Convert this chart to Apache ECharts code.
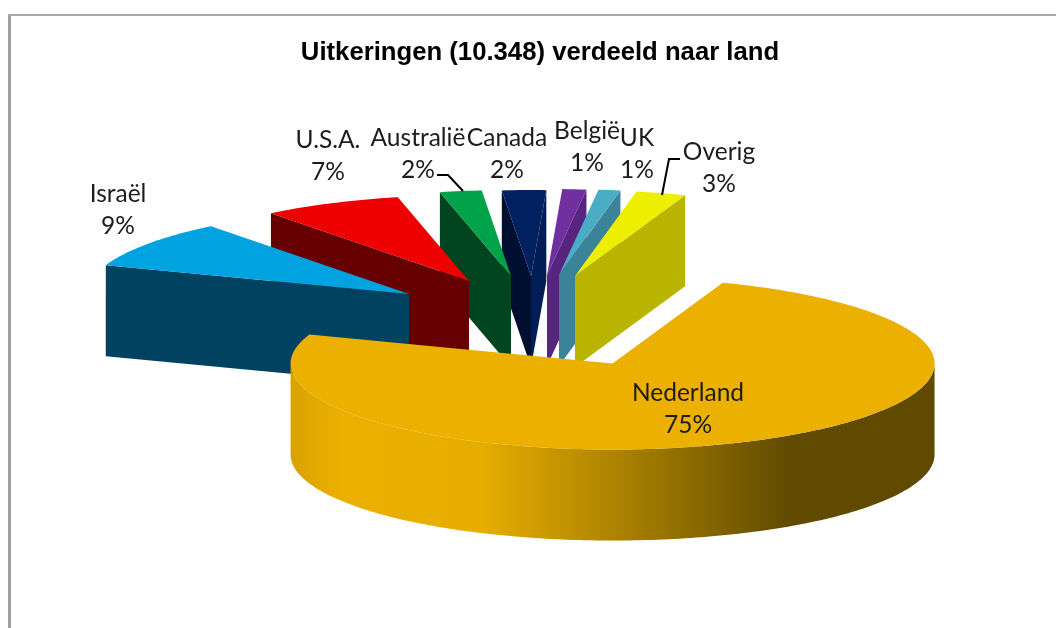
<!DOCTYPE html>
<html>
<head>
<meta charset="utf-8">
<style>html,body{margin:0;padding:0;background:#fff}#c{width:1056px;height:628px}</style>
<script src="https://cdn.jsdelivr.net/npm/echarts@6/dist/echarts.min.js"></script>
</head>
<body>
<div id="c"></div>
<script>
// Data, clockwise from the start angle
const categories = ['Nederland', 'Israël', 'U.S.A.', 'Australië', 'Canada', 'België', 'UK', 'Overig'];
const shares = [74.9, 9, 7, 2.1, 2.2, 1.2, 1.1, 2.5];
const titleText = 'Uitkeringen (10.348) verdeeld naar land';

// Styling
const topColors = ['#EBB000', '#00A3E0', '#EE0000', '#00A24A', '#002060', '#7030A0', '#4BACC6', '#EEEE00'];
const startWallColors = ['#5F4A00', '#00425F', '#660000', '#00451F', '#000F30', '#572480', '#3B8398', '#B8B400'];
const endWallColors = ['#5F4A00', '#00425F', '#660000', '#00451F', '#001D55', '#572480', '#3B8398', '#B8B400'];
const explodeX = [0.588, 0.471, 0.457, 0.418, 0.143, 0.547, 0.535, 0.5];
const explodeY = [0.585, 0.476, 0.476, 0.494, 0.488, 0.502, 0.506, 0.507];
const drawOrder = [4, 5, 6, 7, 3, 2, 1, 0];

// Layout of the projected pie
const firstAngle = 20, RX = 322, RY = 86, DEPTH = 91, CX = 532, CY = 318;
const labelAt = [[688, 409], [118, 210], [328, 156], [418, 154], [507, 154], [587, 147], [637, 154], [719, 168]];
const leaders = { 3: [[437, 175], [448, 175], [463, 191]], 7: [[680, 159], [669, 159], [662, 195]] };

const total = shares.reduce((a, b) => a + b, 0);
const startAngles = [];
shares.reduce((acc, v, i) => { startAngles[i] = acc; return acc + v / total * 360; }, firstAngle);

const rad = d => d * Math.PI / 180;
function renderSlice(params, api) {
  const i = api.value(0), v = api.value(1);
  const a0 = startAngles[i], a1 = a0 + v / total * 360, mid = (a0 + a1) / 2;
  const ax = CX + explodeX[i] * RX * Math.sin(rad(mid));
  const ay = CY - explodeY[i] * RY * Math.cos(rad(mid));
  const rim = a => [ax + RX * Math.sin(rad(a)), ay - RY * Math.cos(rad(a))];
  const down = p => [p[0], p[1] + DEPTH];
  const children = [];
  const poly = (points, fill) => children.push({ type: 'polygon', shape: { points }, style: { fill } });

  // Radial walls facing the viewer
  if (Math.sin(rad(a0)) < 0) {
    const p = rim(a0);
    poly([p, [ax, ay], down([ax, ay]), down(p)], startWallColors[i]);
  }
  if (Math.sin(rad(a1)) > 0) {
    const p = rim(a1);
    poly([p, [ax, ay], down([ax, ay]), down(p)], endWallColors[i]);
  }
  // Outer wall, front half only
  const f0 = Math.max(a0, 90), f1 = Math.min(a1, 270);
  if (f1 > f0) {
    const upper = [], lower = [];
    for (let a = f0; a <= f1; a += 1) { upper.push(rim(a)); lower.unshift(down(rim(a))); }
    poly(upper.concat(lower), {
      type: 'linear', x: 0, y: 0, x2: 1, y2: 0,
      colorStops: [
        { offset: 0, color: '#D9A200' }, { offset: 0.08, color: '#EBB000' },
        { offset: 0.3, color: '#E6AD00' }, { offset: 0.78, color: '#5F4A00' },
        { offset: 1, color: '#5F4A00' }
      ]
    });
  }
  // Top face
  const top = [[ax, ay]];
  for (let a = a0; a < a1; a += 1) top.push(rim(a));
  top.push(rim(a1));
  poly(top, topColors[i]);

  return { type: 'group', children };
}

function renderLabel(params, api) {
  const i = api.value(0), v = api.value(1);
  const children = [{
    type: 'text',
    style: {
      x: labelAt[i][0], y: labelAt[i][1],
      text: categories[i] + '\n' + Math.round(v / total * 100) + '%',
      fill: '#1c1c1c', font: '24.5px Lato', lineHeight: 32,
      align: 'center', verticalAlign: 'middle'
    }
  }];
  if (leaders[i]) {
    children.push({
      type: 'polyline', shape: { points: leaders[i] },
      style: { stroke: '#000', lineWidth: 2, fill: 'none' }
    });
  }
  return { type: 'group', children };
}

const chart = echarts.init(document.getElementById('c'), null, { renderer: 'canvas' });
chart.setOption({
  animation: false,
  backgroundColor: '#fff',
  title: {
    text: titleText, left: 535, top: 35, textAlign: 'center',
    textStyle: { fontFamily: 'Liberation Sans', fontWeight: 'bold', fontSize: 25.7, color: '#000' }
  },
  graphic: [
    { type: 'line', shape: { x1: 9.5, y1: 15, x2: 9.5, y2: 628 }, style: { stroke: '#A0A0A0', lineWidth: 3 }, silent: true },
    { type: 'line', shape: { x1: 8, y1: 15, x2: 1056, y2: 15 }, style: { stroke: '#A8A8A8', lineWidth: 2 }, silent: true }
  ],
  series: [
    {
      type: 'custom', coordinateSystem: 'none', silent: true, z: 2,
      renderItem: renderSlice,
      data: drawOrder.map(i => [i, shares[i]])
    },
    {
      type: 'custom', coordinateSystem: 'none', silent: true, z: 3,
      renderItem: renderLabel,
      data: categories.map((c, i) => [i, shares[i]])
    }
  ]
});
</script>
</body>
</html>
